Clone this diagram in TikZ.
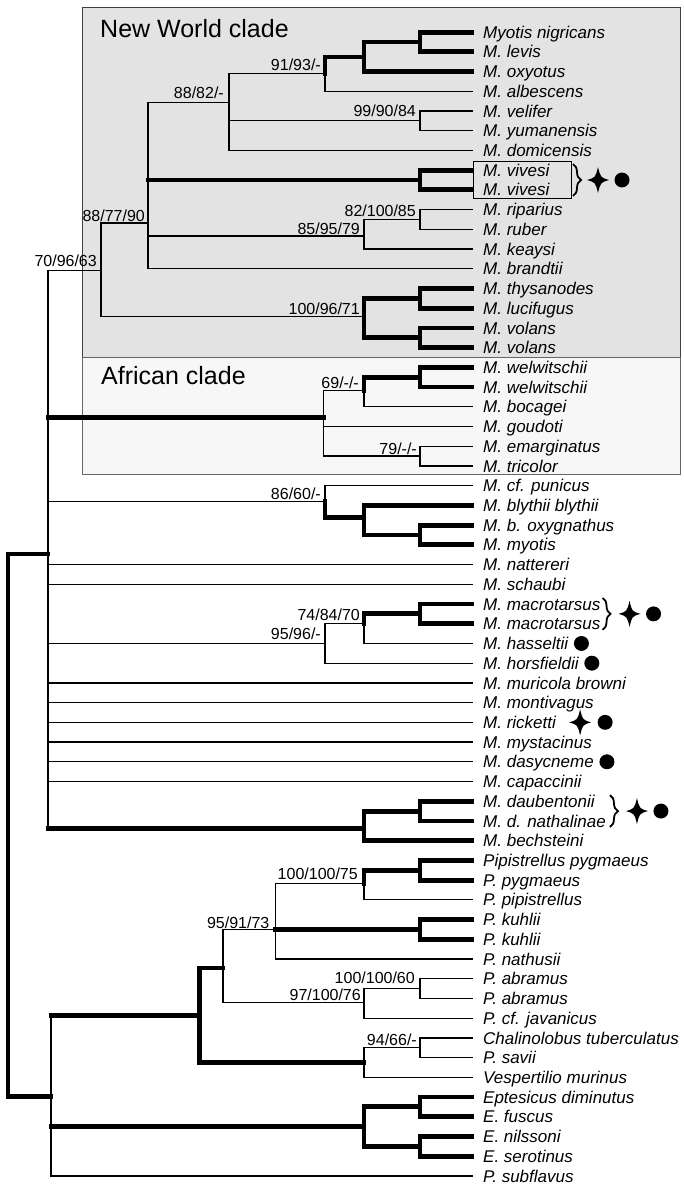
\documentclass[tikz,border=0pt]{standalone}
\usepackage{fontspec}
\setmainfont{Liberation Sans}
\usetikzlibrary{calc,decorations.pathreplacing}
\begin{document}
\begin{tikzpicture}[x=1pt,y=-1pt,
  thinbr/.style={line width=1.25pt, line cap=rect},
  thickbr/.style={line width=4.8pt, line cap=rect},
  tiplab/.style={anchor=west, inner sep=0pt, text height=12.2pt, text depth=0pt, font=\fontsize{17}{17}\selectfont\itshape},
  suplab/.style={anchor=base east, inner sep=0pt, font=\fontsize{16}{16}\selectfont},
  cladetitle/.style={anchor=base west, inner sep=0pt, font=\fontsize{25}{25}\selectfont},
  bracesty/.style={decorate, decoration={brace, amplitude=8pt}, line width=1.8pt},
  fourstar/.pic={\fill (0,-13) .. controls (2.5,-2.5) .. (11,0) .. controls (2.5,2.5) .. (0,13) .. controls (-2.5,2.5) .. (-11,0) .. controls (-2.5,-2.5) .. cycle;}
]
\useasboundingbox (0,0) rectangle (683,1189);
\fill[white] (0,0) rectangle (683,1189);

\begin{scope}[yscale=0.9945]
% clade boxes
\path[fill=gray!22, draw=black!75, line width=0.9pt] (82,7) rectangle (680,359);
\path[fill=gray!6, draw=black!60, line width=0.8pt] (82,359) rectangle (680,477);
\node[cladetitle] (nwt) at (100,38) {New World clade};
\node[cladetitle] (aft) at (101,387) {African clade};

% tips
\foreach \lab [count=\i from 0] in {Myotis nigricans, M. levis, M. oxyotus, M. albescens, M. velifer, M. yumanensis, M. domicensis, M. vivesi, M. vivesi, M. riparius, M. ruber, M. keaysi, M. brandtii, M. thysanodes, M. lucifugus, M. volans, M. volans, M. welwitschii, M. welwitschii, M. bocagei, M. goudoti, M. emarginatus, M. tricolor, M. cf. punicus, M. blythii blythii, M. b. oxygnathus, M. myotis, M. nattereri, M. schaubi, M. macrotarsus, M. macrotarsus, M. hasseltii, M. horsfieldii, M. muricola browni, M. montivagus, M. ricketti, M. mystacinus, M. dasycneme, M. capaccinii, M. daubentonii, M. d. nathalinae, M. bechsteini, Pipistrellus pygmaeus, P. pygmaeus, P. pipistrellus, P. kuhlii, P. kuhlii, P. nathusii, P. abramus, P. abramus, P. cf. javanicus, Chalinolobus tuberculatus, P. savii, Vespertilio murinus, Eptesicus diminutus, E. fuscus, E. nilssoni, E. serotinus, P. subflavus}{
  \node[tiplab] (L\i) at (483,{32.3+19.83*\i}) {\lab};
  \coordinate (t\i) at (472,{32.3+19.83*\i});
}

% internal nodes (x of vertical line, y of stem)
\coordinate (A) at (420,42.2);
\coordinate (B) at (364,57.3);
\coordinate (C) at (325,74);
\coordinate (D) at (420,121.5);
\coordinate (E) at (229,103.3);
\coordinate (F) at (420,181);
\coordinate (G) at (420,220.7);
\coordinate (H) at (364,237.3);
\coordinate (I) at (148,224.3);
\coordinate (K1) at (420,300);
\coordinate (K2) at (420,339.7);
\coordinate (K) at (364,318.3);
\coordinate (J) at (101,272);
\coordinate (AW) at (420,379.3);
\coordinate (M) at (364,392.7);
\coordinate (N) at (420,458.6);
\coordinate (Af) at (323.5,420);
\coordinate (Q) at (420,538);
\coordinate (P) at (364,520);
\coordinate (O) at (325,504);
\coordinate (T) at (420,617.3);
\coordinate (S) at (364,626.7);
\coordinate (R) at (325,647.3);
\coordinate (V) at (420,815.6);
\coordinate (U) at (364,832.7);
\coordinate (My) at (48,557);
\coordinate (X) at (420,875);
\coordinate (W) at (364,888.3);
\coordinate (Z) at (420,934.6);
\coordinate (Y) at (275.5,934.6);
\coordinate (AC) at (420,994);
\coordinate (AB) at (364,1008.3);
\coordinate (AA) at (223,973.3);
\coordinate (AF) at (420,1053.5);
\coordinate (AE) at (364,1068.3);
\coordinate (AD) at (199.7,1021);
\coordinate (AH) at (420,1113);
\coordinate (AI) at (420,1152.7);
\coordinate (AG) at (364,1132.7);
\coordinate (Bt) at (51,1102.7);
\coordinate (Rt) at (8,830);

% New World clade
\draw[thickbr] (A) |- (t0) (A) |- (t1);
\draw[thickbr] (B) |- (A) (B) |- (t2);
\draw[thickbr] (C) |- (B);
\draw[thinbr] (C) |- (t3);
\draw[thinbr] (D) |- (t4) (D) |- (t5);
\draw[thinbr] (E) |- (C) (E) |- (D) (E) |- (t6);
\draw[thickbr] (F) |- (t7) (F) |- (t8);
\draw[thinbr] (G) |- (t9) (G) |- (t10);
\draw[thinbr] (H) |- (G) (H) |- (t11);
\draw[thinbr] (I) |- (E) (I) |- (H) (I) |- (t12);
\draw[thickbr] (I |- F) -- (F);
\draw[thickbr] (K1) |- (t13) (K1) |- (t14);
\draw[thickbr] (K2) |- (t15) (K2) |- (t16);
\draw[thickbr] (K) |- (K1) (K) |- (K2);
\draw[thinbr] (J) |- (I) (J) |- (K);

% African clade
\draw[thickbr] (AW) |- (t17) (AW) |- (t18);
\draw[thickbr] (M) |- (AW);
\draw[thinbr] (M) |- (t19);
\draw[thinbr] (N) |- (t21) (N) |- (t22);
\draw[thinbr] (Af) |- (M) (Af) |- (t20) (Af) |- (N);

% other Myotis
\draw[thickbr] (Q) |- (t25) (Q) |- (t26);
\draw[thickbr] (P) |- (t24) (P) |- (Q);
\draw[thinbr] (O) |- (t23);
\draw[thickbr] (O) |- (P);
\draw[thickbr] (T) |- (t29) (T) |- (t30);
\draw[thickbr] (S) |- (T);
\draw[thinbr] (S) |- (t31);
\draw[thinbr] (R) |- (S) (R) |- (t32);
\draw[thickbr] (V) |- (t39) (V) |- (t40);
\draw[thickbr] (U) |- (V) (U) |- (t41);

% Myotis polytomy
\draw[thinbr] (My |- J) -- (My |- U);
\draw[thinbr] (My |- J) -- (J) (My |- O) -- (O) (My |- R) -- (R);
\foreach \k in {27,28,33,34,35,36,37,38} {\draw[thinbr] (My |- t\k) -- (t\k);}
\draw[thickbr] (My |- Af) -- (Af);
\draw[thickbr] (My |- U) -- (U);

% Pipistrellus and allies
\draw[thickbr] (X) |- (t42) (X) |- (t43);
\draw[thickbr] (W) |- (X);
\draw[thinbr] (W) |- (t44);
\draw[thickbr] (Z) |- (t45) (Z) |- (t46);
\draw[thinbr] (Y) |- (W) (Y) |- (t47);
\draw[thickbr] (Y) -- (Z);
\draw[thinbr] (AC) |- (t48) (AC) |- (t49);
\draw[thinbr] (AB) |- (AC) (AB) |- (t50);
\draw[thinbr] (AA) |- (Y) (AA) |- (AB);
\draw[thinbr] (AF) |- (t51) (AF) |- (t52);
\draw[thinbr] (AE) |- (AF) (AE) |- (t53);
\draw[thickbr] (AD) |- (AA) (AD) |- (AE);
\draw[thickbr] (AH) |- (t54) (AH) |- (t55);
\draw[thickbr] (AI) |- (t56) (AI) |- (t57);
\draw[thickbr] (AG) |- (AH) (AG) |- (AI);
\draw[thinbr] (Bt |- AD) -- (Bt |- t58) -- (t58);
\draw[thickbr] (Bt |- AD) -- (AD);
\draw[thickbr] (Bt |- AG) -- (AG);

% root
\draw[thickbr] (Rt) |- (My) (Rt) |- (Bt);

% support values
\node[suplab] (s1) at ($(C)+(-4,-3)$) {91/93/-};
\node[suplab] (s2) at ($(E)+(-5,-4)$) {88/82/-};
\node[suplab] (s3) at ($(D)+(-4,-4)$) {99/90/84};
\node[suplab] (s4) at ($(G)+(-4,-3)$) {82/100/85};
\node[suplab] (s5) at ($(H)+(-4,-2)$) {85/95/79};
\node[suplab] (s6) at ($(I)+(-3,-2)$) {88/77/90};
\node[suplab] (s7) at ($(J)+(-4,-4)$) {70/96/63};
\node[suplab] (s8) at ($(K)+(-4,-2)$) {100/96/71};
\node[suplab] (s9) at ($(M)+(-5,-2.5)$) {69/-/-};
\node[suplab] (s10) at ($(N)+(-3,-1.5)$) {79/-/-};
\node[suplab] (s11) at ($(O)+(-4,-2)$) {86/60/-};
\node[suplab] (s12) at ($(S)+(-4,-2.5)$) {74/84/70};
\node[suplab] (s13) at ($(R)+(-4,-4)$) {95/96/-};
\node[suplab] (s14) at ($(W)+(-6,-4)$) {100/100/75};
\node[suplab] (s15) at ($(Y)+(-6,-1)$) {95/91/73};
\node[suplab] (s16) at ($(AC)+(-5,-5)$) {100/100/60};
\node[suplab] (s17) at ($(AB)+(-3,-2)$) {97/100/76};
\node[suplab] (s18) at ($(AF)+(-3,-2.5)$) {94/66/-};

% markers
\draw[line width=0.9pt] (473,162.5) rectangle (571,200);
\coordinate (vb) at (573,181);
\draw[bracesty] ($(vb)+(0,-16)$) -- ($(vb)+(0,16)$);
\pic at ($(vb)+(25,0)$) {fourstar};
\fill ($(vb)+(49,0)$) circle[radius=7.5];

\coordinate (mb) at ($(L29.east |- T)+(2,0)$);
\draw[bracesty] ($(mb)+(0,-16)$) -- ($(mb)+(0,16)$);
\pic at ($(mb)+(27,0)$) {fourstar};
\fill ($(mb)+(51,0)$) circle[radius=7.5];

\coordinate (db) at ($(L40.east |- V)+(4,0)$);
\draw[bracesty] ($(db)+(0,-16)$) -- ($(db)+(0,16)$);
\pic at ($(db)+(27,0)$) {fourstar};
\fill ($(db)+(51,0)$) circle[radius=7.5];

\pic at ($(L35.east)+(24,0)$) {fourstar};
\fill ($(L35.east)+(49,0)$) circle[radius=7.5];
\fill ($(L31.east)+(13,0)$) circle[radius=7.5];
\fill ($(L32.east)+(13,0)$) circle[radius=7.5];
\fill ($(L37.east)+(13,0)$) circle[radius=7.5];
\end{scope}
\end{tikzpicture}
\end{document}
